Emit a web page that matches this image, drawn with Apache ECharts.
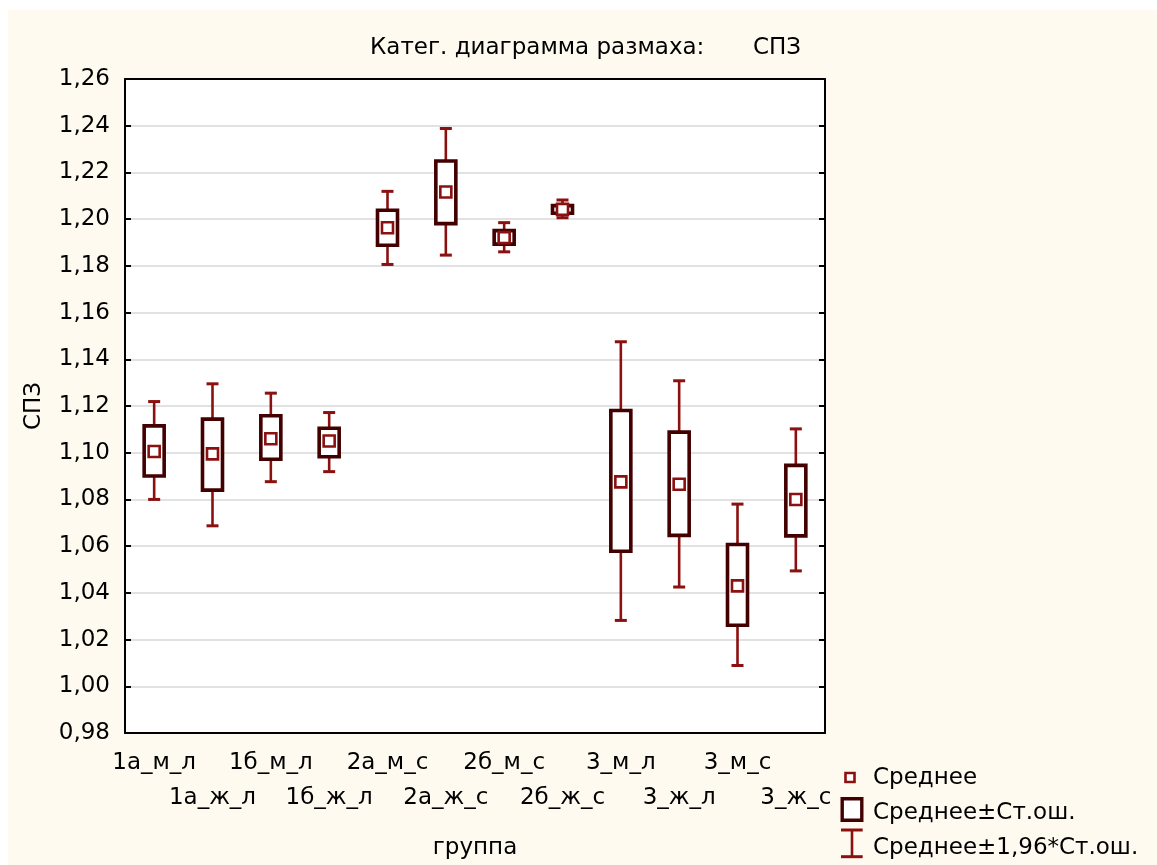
<!DOCTYPE html>
<html>
<head>
<meta charset="utf-8">
<script src="https://cdn.jsdelivr.net/npm/echarts@6.0.0/dist/echarts.min.js"></script>
<style>
  html, body { margin: 0; padding: 0; background: #ffffff; overflow: hidden; }
  #chart { position: absolute; left: 8px; top: 10px; width: 1149px; height: 855px; }
</style>
</head>
<body>
<div id="chart"></div>
<script>
// Groups
const categories = ['1а_м_л', '1а_ж_л', '1б_м_л', '1б_ж_л', '2а_м_с', '2а_ж_с',
                    '2б_м_с', '2б_ж_с', '3_м_л', '3_ж_л', '3_м_с', '3_ж_с'];
// Mean of СПЗ per group
const meanValues = [1.1005, 1.0995, 1.1060, 1.1050, 1.1963, 1.2116,
                    1.1921, 1.2042, 1.0875, 1.0865, 1.0430, 1.0800];
// Mean ± standard error (box)
const seLow  = [1.0900, 1.0840, 1.0972, 1.0983, 1.1888, 1.1981,
                1.1893, 1.2025, 1.0578, 1.0646, 1.0261, 1.0644];
const seHigh = [1.1115, 1.1144, 1.1158, 1.1105, 1.2038, 1.2249,
                1.1951, 1.2058, 1.1181, 1.1088, 1.0607, 1.0946];
// Mean ± 1.96 * standard error (whiskers)
const ciLow  = [1.0800, 1.0687, 1.0876, 1.0919, 1.1806, 1.1846,
                1.1860, 1.2006, 1.0282, 1.0425, 1.0089, 1.0494];
const ciHigh = [1.1219, 1.1295, 1.1255, 1.1172, 1.2119, 1.2388,
                1.1985, 1.2082, 1.1475, 1.1308, 1.0780, 1.1102];
// Value axis range
const yMin = 0.98, yMax = 1.26, yStep = 0.02;

const FONT = 'DejaVu Sans';
const FS = 23;
const WHISKER = '#8b1010';
const BOX = '#420000';

const chart = echarts.init(document.getElementById('chart'));

function renderWhisker(params, api) {
  const i = api.value(0);
  const lo = api.coord([i, api.value(1)]);
  const hi = api.coord([i, api.value(2)]);
  const x = lo[0], cap = 6;
  return {
    type: 'group',
    children: [
      { type: 'line', shape: { x1: x, y1: lo[1], x2: x, y2: hi[1] }, style: { stroke: WHISKER, lineWidth: 2.6 } },
      { type: 'line', shape: { x1: x - cap, y1: hi[1], x2: x + cap, y2: hi[1] }, style: { stroke: WHISKER, lineWidth: 3 } },
      { type: 'line', shape: { x1: x - cap, y1: lo[1], x2: x + cap, y2: lo[1] }, style: { stroke: WHISKER, lineWidth: 3 } }
    ]
  };
}

function renderBox(params, api) {
  const i = api.value(0);
  const lo = api.coord([i, api.value(1)]);
  const hi = api.coord([i, api.value(2)]);
  const w = 20;
  return {
    type: 'rect',
    shape: { x: lo[0] - w / 2, y: hi[1], width: w, height: lo[1] - hi[1] },
    style: { fill: '#ffffff', stroke: BOX, lineWidth: 3.6 }
  };
}

const textBase = { fontFamily: FONT, fontSize: FS, color: '#000' };
const legendFont = FS + 'px "' + FONT + '"';

const option = {
  backgroundColor: '#fffaf0',
  animation: false,
  title: [
    { text: 'Катег. диаграмма размаха:', left: 362, top: 27, padding: 0,
      textStyle: Object.assign({ fontWeight: 'normal' }, textBase) },
    { text: 'СПЗ', left: 745, top: 27, padding: 0,
      textStyle: Object.assign({ fontWeight: 'normal' }, textBase) }
  ],
  grid: {
    left: 117, right: 332, top: 69, bottom: 132,
    outerBoundsMode: 'none', containLabel: false,
    show: true, backgroundColor: '#ffffff', borderWidth: 0
  },
  xAxis: [
    {
      type: 'category', data: categories, position: 'bottom',
      name: 'группа', nameLocation: 'middle', nameGap: 104,
      nameTextStyle: textBase,
      axisLine: { lineStyle: { color: '#000', width: 2 } },
      axisTick: { inside: true, alignWithLabel: true, interval: 0, length: 6, lineStyle: { color: '#000', width: 2 } },
      axisLabel: {
        interval: 0, hideOverlap: false, margin: 13, lineHeight: 35,
        fontFamily: FONT, fontSize: FS, color: '#000',
        formatter: (v, idx) => (idx % 2 ? '\n' + v : v)
      },
      splitLine: { show: false }
    },
    {
      type: 'category', data: categories, position: 'top',
      axisLine: { lineStyle: { color: '#000', width: 2 } },
      axisTick: { inside: true, alignWithLabel: true, interval: 0, length: 6, lineStyle: { color: '#000', width: 2 } },
      axisLabel: { show: false },
      splitLine: { show: false }
    }
  ],
  yAxis: [
    {
      type: 'value', min: yMin, max: yMax, interval: yStep, position: 'left',
      name: 'СПЗ', nameLocation: 'middle', nameGap: 79, nameRotate: 90,
      nameTextStyle: textBase,
      axisLine: { show: true, lineStyle: { color: '#000', width: 2 } },
      axisTick: { show: true, inside: true, length: 6, lineStyle: { color: '#000', width: 2 } },
      axisLabel: {
        margin: 15, fontFamily: FONT, fontSize: FS, color: '#000',
        formatter: v => v.toFixed(2).replace('.', ',')
      },
      splitLine: { show: true, lineStyle: { color: '#d8d8d8', width: 1.5 } }
    },
    {
      type: 'value', min: yMin, max: yMax, interval: yStep, position: 'right',
      axisLine: { show: true, lineStyle: { color: '#000', width: 2 } },
      axisTick: { show: true, inside: true, length: 6, lineStyle: { color: '#000', width: 2 } },
      axisLabel: { show: false },
      splitLine: { show: false }
    }
  ],
  series: [
    {
      name: 'Среднее±1,96*Ст.ош.', type: 'custom', renderItem: renderWhisker,
      encode: { x: 0, y: [1, 2] }, z: 2,
      data: categories.map((c, i) => [i, ciLow[i], ciHigh[i]])
    },
    {
      name: 'Среднее±Ст.ош.', type: 'custom', renderItem: renderBox,
      encode: { x: 0, y: [1, 2] }, z: 3,
      data: categories.map((c, i) => [i, seLow[i], seHigh[i]])
    },
    {
      name: 'Среднее', type: 'scatter', symbol: 'rect', symbolSize: 11, z: 4,
      itemStyle: { color: '#ffffff', borderColor: WHISKER, borderWidth: 2.6, opacity: 1 },
      data: categories.map((c, i) => [i, meanValues[i]])
    }
  ],
  graphic: [
    // legend: mean marker
    { type: 'rect', shape: { x: 837.5, y: 763, width: 9, height: 9 },
      style: { fill: '#ffffff', stroke: WHISKER, lineWidth: 2.6 } },
    { type: 'text', x: 865, y: 768,
      style: { text: 'Среднее', font: legendFont, fill: '#000', verticalAlign: 'middle' } },
    // legend: box
    { type: 'rect', shape: { x: 834.2, y: 788.8, width: 19.6, height: 21.4 },
      style: { fill: '#ffffff', stroke: BOX, lineWidth: 3.4 } },
    { type: 'text', x: 865, y: 803,
      style: { text: 'Среднее±Ст.ош.', font: legendFont, fill: '#000', verticalAlign: 'middle' } },
    // legend: whisker
    { type: 'line', shape: { x1: 844, y1: 820, x2: 844, y2: 846.7 }, style: { stroke: WHISKER, lineWidth: 2.6 } },
    { type: 'line', shape: { x1: 833, y1: 820, x2: 854.7, y2: 820 }, style: { stroke: WHISKER, lineWidth: 3 } },
    { type: 'line', shape: { x1: 833, y1: 846.7, x2: 854.7, y2: 846.7 }, style: { stroke: WHISKER, lineWidth: 3 } },
    { type: 'text', x: 865, y: 838.5,
      style: { text: 'Среднее±1,96*Ст.ош.', font: legendFont, fill: '#000', verticalAlign: 'middle' } }
  ]
};

chart.setOption(option);
</script>
</body>
</html>
